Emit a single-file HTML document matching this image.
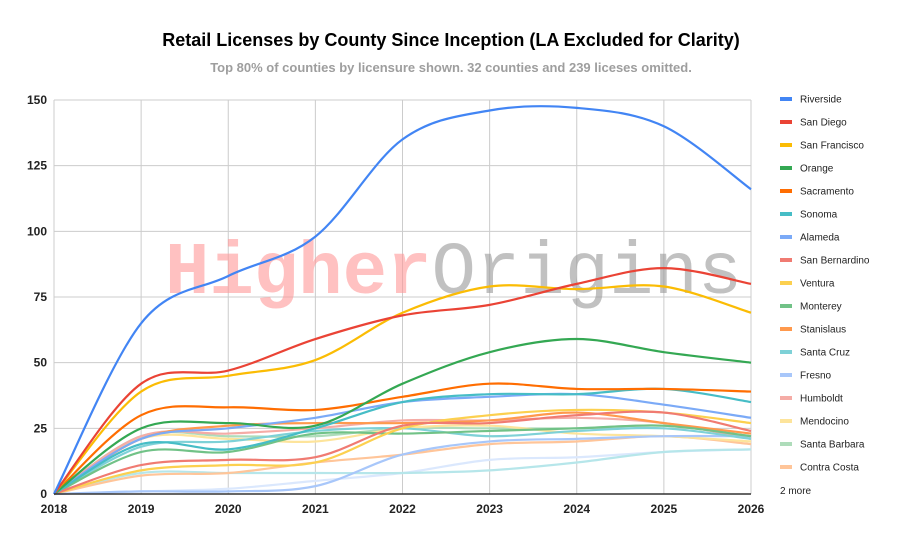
<!DOCTYPE html>
<html><head><meta charset="utf-8"><style>
body{margin:0;background:#fff;font-family:"Liberation Sans",sans-serif}
</style></head><body>
<svg id="s" width="901" height="542" xmlns="http://www.w3.org/2000/svg" font-family="Liberation Sans, sans-serif">
<rect width="901" height="542" fill="#fff"/>
<text x="451" y="46" text-anchor="middle" font-size="18" font-weight="bold" fill="#000">Retail Licenses by County Since Inception (LA Excluded for Clarity)</text>
<text x="451" y="72" text-anchor="middle" font-size="13" font-weight="bold" fill="#9e9e9e">Top 80% of counties by licensure shown. 32 counties and 239 liceses omitted.</text>
<g id="grid" stroke="#ccc" stroke-width="1"></g>
<text x="165" y="293" font-family="Liberation Mono, monospace" font-size="74" fill="#ff9999" opacity="0.6"><tspan font-weight="bold">Higher</tspan><tspan fill="#999">Origins</tspan></text>
<g id="lines" fill="none" stroke-width="2.2"></g>
<line x1="54" y1="494" x2="751" y2="494" stroke="#333" stroke-width="1.5"/>
<g id="lab" font-size="12" font-weight="bold" fill="#222"></g>
<g id="leg" font-size="10" fill="#222"></g>
</svg>
<script>
var X=i=>54+i*87.125,Y=v=>494-v*2.6267,ns="http://www.w3.org/2000/svg";
function el(p,t,a,txt){var e=document.createElementNS(ns,t);for(var k in a)e.setAttribute(k,a[k]);if(txt!=null)e.textContent=txt;document.getElementById(p).appendChild(e);}
for(var i=0;i<=8;i++){el("grid","line",{x1:X(i),x2:X(i),y1:100,y2:494});el("lab","text",{x:X(i),y:513,"text-anchor":"middle"},2018+i);}
for(var v=25;v<=150;v+=25)el("grid","line",{x1:54,x2:751,y1:Y(v),y2:Y(v)});
for(var v=0;v<=150;v+=25)el("lab","text",{x:47,y:Y(v)+4,"text-anchor":"end"},v);
var S=[
["Riverside","#4285f4",[0,65,83,98,135,146,147,140,116]],
["San Diego","#ea4335",[0,42,47,59,68,72,80,86,80]],
["San Francisco","#fbbc04",[0,39,45,51,69,79,78,79,69]],
["Orange","#34a853",[0,25,27,26,42,54,59,54,50]],
["Sacramento","#ff6d01",[0,30,33,32,37,42,40,40,39]],
["Sonoma","#46bdc6",[0,19,17,25,35,38,38,40,35]],
["Alameda","#7baaf7",[0,21,25,29,35,37,38,34,29]],
["San Bernardino","#f07b72",[0,11,13,14,26,27,30,31,24]],
["Ventura","#fcd04f",[0,9,11,12,25,30,32,31,27]],
["Monterey","#71c287",[0,16,16,23,23,24,25,26,22]],
["Stanislaus","#ff994d",[0,21,26,27,27,28,31,27,23]],
["Santa Cruz","#7ed1d7",[0,18,20,24,25,22,24,25,21]],
["Fresno","#a8c7fa",[0,1,1,3,15,20,21,22,22]],
["Humboldt","#f5aca6",[0,22,23,25,28,28,29,27,21]],
["Mendocino","#fde49b",[0,21,21,20,25,26,23,22,20]],
["Santa Barbara","#aedcba",[0,22,22,22,25,25,25,26,22]],
["Contra Costa","#ffc599",[0,7,8,12,15,19,20,22,19]],
["x","#b6e6ea",[0,8,8,8,8,9,12,16,17]],
["y","#dbe8fd",[0,1,2,5,8,13,14,16,17]]];
S.slice().reverse().forEach(function(s){
var p=s[2].map((v,i)=>[X(i),Y(v)]),d="M"+p[0];
for(var i=0;i<p.length-1;i++){var a=p[i-1]||p[i],b=p[i],c=p[i+1],e=p[i+2]||c;
d+=" C"+(b[0]+(c[0]-a[0])/6)+","+(b[1]+(c[1]-a[1])/6)+" "+(c[0]-(e[0]-b[0])/6)+","+(c[1]-(e[1]-b[1])/6)+" "+c;}
el("lines","path",{d:d,stroke:s[1]});});
S.slice(0,17).forEach(function(s,i){var y=99+i*23;el("leg","rect",{x:780,y:y-2,width:12,height:4,fill:s[1]});el("leg","text",{x:800,y:y+3.5},s[0]);});
el("leg","text",{x:780,y:494},"2 more");
</script>
</body></html>
